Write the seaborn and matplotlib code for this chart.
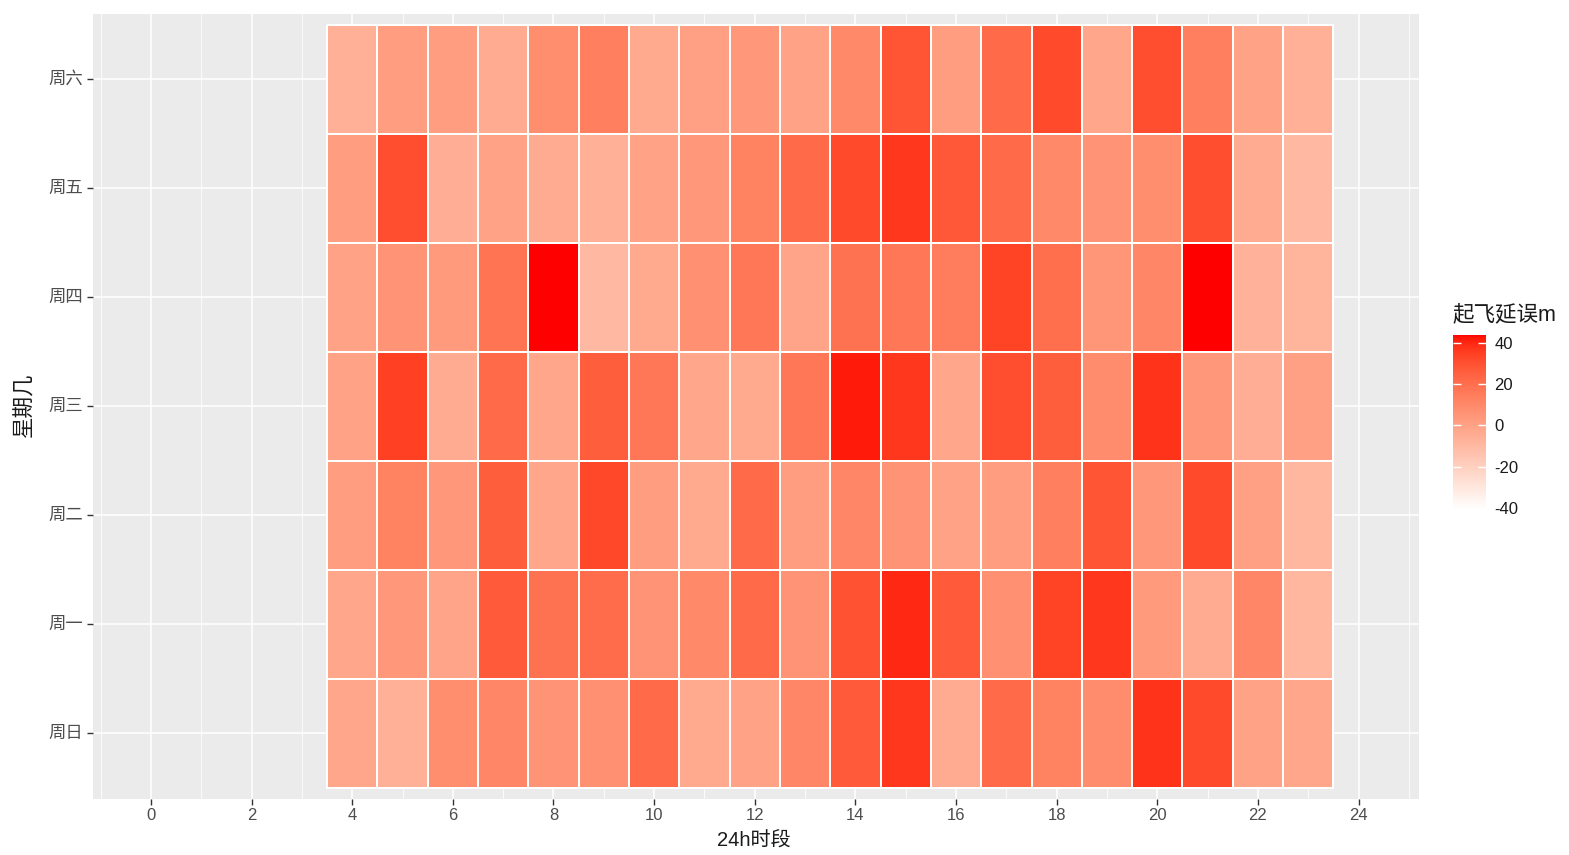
import numpy as np
import pandas as pd
import matplotlib
matplotlib.use("Agg")
import matplotlib.pyplot as plt
from matplotlib.colors import ListedColormap
import seaborn as sns

# 数据：每行一天（从上到下），每列一个小时（4~23点）
hours = list(range(4, 24))
days = ["周六", "周五", "周四", "周三", "周二", "周一", "周日"]

sat = [-6, 2, 2, -4, 8, 14, -3, 1, 4, 0, 10, 29, 2, 22, 32, -2, 31, 14, 0, -6]
fri = [2, 31, -5, 0, -4, -6, 0, 4, 13, 22, 32, 37, 28, 22, 10, 6, 8, 31, -4, -10]
thu = [0, 6, 3, 18, 44, -10, -3, 7, 17, -1, 19, 17, 15, 34, 20, 5, 11, 44, -7, -8]
wed = [0, 35, -4, 22, -2, 26, 17, -2, -3, 17, 42, 37, -2, 31, 26, 9, 38, 4, -5, 1]
tue = [2, 13, 4, 26, -2, 33, 2, -3, 22, 2, 11, 6, 0, 2, 14, 29, 4, 32, 1, -9]
mon = [-2, 4, -1, 27, 19, 21, 6, 10, 22, 6, 30, 40, 27, 7, 34, 37, 3, -4, 11, -9]
sun = [-2, -6, 8, 11, 6, 7, 22, -3, 0, 11, 27, 37, -4, 22, 13, 9, 38, 32, 0, -2]

df = pd.DataFrame([sat, fri, thu, wed, tue, mon, sun], index=days, columns=hours)


# 白->红 渐变 (Lab 插值, 类似 ggplot scale_fill_gradient)
def lab_to_rgb(L, a, b):
    fy = (L + 16) / 116
    fx = fy + a / 500
    fz = fy - b / 200
    finv = lambda t: np.where(t > 6 / 29, t ** 3, 3 * (6 / 29) ** 2 * (t - 4 / 29))
    xyz = np.array([0.95047 * finv(fx), finv(fy), 1.08883 * finv(fz)])
    M = np.array([[3.2406, -1.5372, -0.4986],
                  [-0.9689, 1.8758, 0.0415],
                  [0.0557, -0.2040, 1.0570]])
    lin = np.clip(M @ xyz, 0, 1)
    srgb = np.where(lin <= 0.0031308, 12.92 * lin, 1.055 * lin ** (1 / 2.4) - 0.055)
    return np.clip(srgb, 0, 1).T

t = np.linspace(0, 1, 256)
lab_white = np.array([100.0, 0.0, 0.0])
lab_red = np.array([53.24, 80.09, 67.20])
lab = lab_white[:, None] + (lab_red - lab_white)[:, None] * t
cmap = ListedColormap(lab_to_rgb(lab[0], lab[1], lab[2]))

plt.rcParams['font.family'] = ['Liberation Sans', 'Noto Sans CJK SC', 'DejaVu Sans']
plt.rcParams['axes.unicode_minus'] = False

fig = plt.figure(figsize=(15.69, 8.55), dpi=100)
ax = fig.add_axes([0.0593, 0.0658, 0.8451, 0.918])
cax = fig.add_axes([0.926, 0.4035, 0.021, 0.205])

sns.heatmap(df, ax=ax, cmap=cmap, vmin=-41, vmax=44, linewidths=1.1,
            linecolor="white", cbar_ax=cax, cbar_kws={"ticks": [-40, -20, 0, 20, 40]})

# 坐标：热图列中心 = 小时 - 3.5
ax.set_xlim(-1.15 - 3.5, 25.2 - 3.5)
ax.set_ylim(7.1, -0.1)
ax.set_xticks([h - 3.5 for h in range(0, 25, 2)])
ax.set_xticklabels([str(h) for h in range(0, 25, 2)], rotation=0)
ax.set_xticks([h - 3.5 for h in range(-1, 26, 2)], minor=True)
ax.set_yticks([i + 0.5 for i in range(len(days))])
ax.set_yticklabels(days, rotation=0)
ax.set_xlabel("")
ax.set_ylabel("")

ax.set_facecolor("#EBEBEB")
for s in ax.spines.values():
    s.set_visible(False)
ax.set_axisbelow(True)
ax.grid(True, which="major", color="white", linewidth=1.1)
ax.xaxis.grid(True, which="minor", color="white", linewidth=0.55)
ax.tick_params(axis="both", which="major", length=4, width=1, color="#333333",
               labelcolor="#4D4D4D", labelsize=12, pad=3)
ax.tick_params(axis="y", which="major", labelsize=12.5)
ax.tick_params(axis="both", which="minor", length=0)

cbar = ax.collections[0].colorbar
cbar.outline.set_visible(False)
cax.tick_params(which="major", direction="in", left=True, right=True, color="white",
                length=6, width=1, labelsize=12, labelcolor="#1A1A1A", pad=6)
cax.minorticks_off()

fig.text(0.926, 0.6316, "起飞延误m", fontsize=15.5, ha="left", va="center", color="#1A1A1A")
fig.text(25 / 1569, (855 - 405) / 855, "星期几", rotation=90, fontsize=15.5,
         ha="center", va="center", color="#1A1A1A")
fig.text(754 / 1569, 14 / 855, "24h时段", fontsize=14.5, ha="center", va="center", color="#1A1A1A")

fig.savefig("out.png", dpi=100)
